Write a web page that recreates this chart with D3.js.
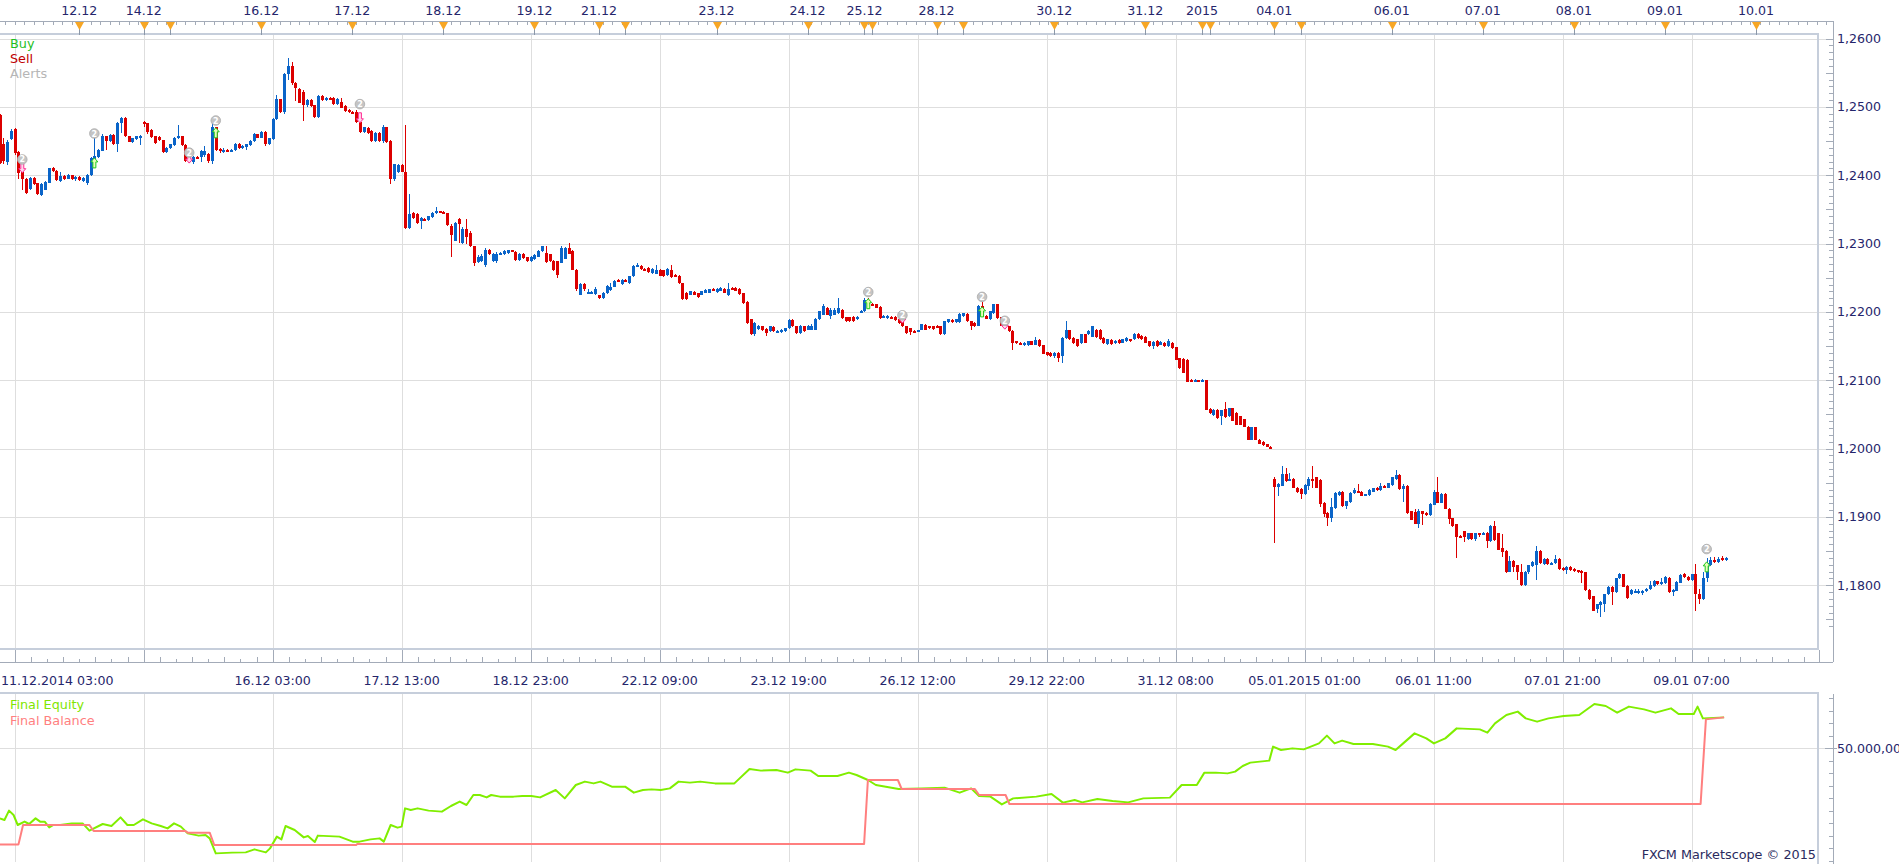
<!DOCTYPE html>
<html>
<head>
<meta charset="utf-8">
<title>EUR/USD H1 - Marketscope</title>
<script src="https://cdn.jsdelivr.net/npm/d3@7/dist/d3.min.js"></script>
<style>
  body { margin: 0; background: #fff; }
  svg { display: block; font-family: "DejaVu Sans", Verdana, sans-serif; }
</style>
</head>
<body>
<svg id="chart" width="1899" height="864"></svg>
<script>
// prices kept as pips above 1.2000, one hourly bar per entry: [open, high, low, close]
const BASE = 1.2;
const FIRST_INDEX = -4; // bar index 0 = 11.12.2014 03:00

const ohlcPips = [
  // -4
  [488,490,416,418],[445,455,416,421],[420,452,415,449],[453,467,452,465],
  // 0
  [467,469,430,432],[434,436,394,403],[404,405,379,394],[395,396,373,374],[380,397,378,396],
  [396,398,385,387],[388,389,371,372],[371,388,369,387],[379,392,378,390],[389,411,388,410],
  // 10
  [410,412,405,406],[406,407,392,393],[391,404,390,399],[399,400,393,394],[395,402,394,400],
  [400,401,393,394],[394,399,392,397],[398,399,392,393],[392,397,390,396],[389,402,385,401],
  // 20
  [400,426,399,425],[423,454,422,428],[426,439,425,437],[436,460,435,457],[457,458,437,450],
  [450,461,449,459],[459,460,444,445],[445,478,434,477],[477,485,462,484],[484,485,456,457],
  // 30
  [457,458,448,449],[449,455,447,454],[453,458,452,457],[454,459,444,458],[478,479,470,476],
  [476,477,461,463],[466,467,455,456],[457,458,446,447],[456,457,450,451],[451,452,433,434],
  // 40
  [434,441,433,440],[440,446,439,445],[444,456,443,455],[454,473,453,457],[457,458,443,444],
  [444,445,420,421],[423,424,418,419],[419,428,416,427],[427,428,425,426],[427,437,420,436],
  // 50
  [429,443,426,436],[431,432,418,421],[421,478,417,470],[470,471,436,437],[438,440,432,437],
  [436,440,433,437],[437,438,434,436],[436,438,435,437],[437,447,436,446],[446,447,439,440],
  // 60
  [440,444,439,443],[441,446,437,445],[444,451,443,450],[450,462,449,460],[460,461,454,455],
  [455,464,454,463],[463,464,442,445],[445,455,444,454],[453,483,452,482],[482,518,481,511],
  // 70
  [511,512,491,492],[492,550,490,548],[548,572,540,560],[560,566,532,535],[535,537,509,527],
  [526,528,505,506],[521,524,480,502],[502,512,500,510],[510,512,500,501],[502,503,484,485],
  // 80
  [485,518,484,516],[516,517,509,510],[510,514,509,513],[513,514,510,511],[513,514,503,504],
  [504,513,503,512],[507,513,498,499],[501,502,493,494],[496,497,491,492],[493,494,489,490],
  // 90
  [492,496,476,478],[478,480,462,463],[463,471,462,470],[469,470,461,462],[465,466,449,450],
  [450,463,449,462],[462,463,449,450],[450,473,447,470],[470,471,447,448],[450,451,387,394],
  // 100
  [394,417,392,416],[405,416,403,415],[415,416,404,405],[405,473,322,323],[323,372,322,343],
  [345,346,336,338],[343,344,329,330],[333,339,322,338],[336,337,333,334],[334,341,333,340],
  // 110
  [339,346,338,345],[344,353,343,348],[347,348,344,345],[346,347,343,344],[344,345,325,327],
  [326,328,280,312],[304,332,303,330],[336,338,301,328],[301,324,300,321],[322,336,300,310],
  // 120
  [316,318,295,296],[296,297,267,272],[273,283,271,281],[274,284,273,282],[269,293,266,291],
  [291,292,283,284],[274,286,273,285],[274,288,272,285],[284,288,283,286],[284,290,283,289],
  // 130
  [286,291,285,290],[290,291,288,289],[287,289,275,276],[276,286,275,285],[285,286,278,279],
  [280,281,273,274],[274,282,273,281],[277,284,276,283],[281,290,280,289],[289,297,288,296],
  // 140
  [286,297,272,273],[284,285,273,274],[275,276,260,261],[274,275,250,254],[272,296,271,294],
  [278,295,277,293],[294,301,284,285],[289,290,261,262],[262,263,230,233],[225,243,224,241],
  // 150
  [241,242,231,233],[227,233,226,229],[227,231,226,229],[226,236,225,234],[224,225,219,220],
  [220,229,219,228],[227,239,226,238],[232,242,231,237],[237,246,236,245],[247,248,244,245],
  // 160
  [241,248,240,247],[247,248,244,245],[242,253,241,252],[252,268,251,267],[266,272,265,269],
  [267,269,262,263],[263,264,261,262],[264,265,257,258],[257,264,256,263],[256,268,255,262],
  // 170
  [262,263,252,253],[261,262,251,252],[254,264,253,263],[262,268,250,251],[254,255,251,252],
  [253,254,241,242],[242,243,218,219],[228,229,217,219],[225,231,224,230],[229,230,224,225],
  // 180
  [227,228,221,222],[225,231,224,230],[228,233,227,232],[228,234,227,233],[234,235,230,231],
  [229,235,228,234],[231,236,230,235],[234,235,227,228],[224,243,223,234],[235,236,232,233],
  // 190
  [235,236,230,231],[234,235,225,226],[227,228,212,213],[215,216,183,184],[189,190,166,167],
  [167,185,165,184],[175,181,174,180],[179,180,172,173],[175,176,165,169],[172,180,171,179],
  // 200
  [178,179,171,172],[171,174,170,172],[170,175,169,174],[172,177,171,176],[176,189,175,188],
  [188,189,178,179],[179,180,168,169],[169,181,168,180],[179,180,171,172],[174,181,173,180],
  // 210
  [174,182,173,180],[174,191,173,190],[189,202,188,201],[196,211,195,208],[206,207,195,196],
  [194,205,190,203],[196,205,195,203],[198,220,197,206],[203,204,190,191],[192,193,185,186],
  // 220
  [192,193,185,186],[193,194,185,186],[189,194,188,193],[199,203,198,202],[201,221,200,218],
  [217,220,211,212],[212,213,208,209],[211,212,205,206],[207,208,190,191],[192,196,191,194],
  // 230
  [191,195,190,194],[193,194,189,190],[193,194,187,188],[190,191,183,184],[186,187,178,179],
  [179,180,168,169],[176,177,166,170],[172,173,169,170],[171,174,170,173],[174,183,173,182],
  // 240
  [181,182,173,174],[179,180,175,176],[179,180,174,175],[180,181,176,177],[179,180,166,167],
  [167,187,166,186],[185,190,184,189],[188,189,184,185],[185,190,184,189],[185,198,184,197],
  // 250
  [194,199,193,198],[197,198,185,186],[186,187,173,180],[184,185,178,179],[180,210,179,208],
  [208,214,192,193],[194,195,189,190],[189,202,188,201],[198,212,197,211],[211,212,190,191],
  // 260
  [192,193,179,180],[183,184,178,179],[179,180,171,172],[172,173,144,154],[157,158,153,154],
  [155,156,151,152],[151,156,150,155],[151,158,150,157],[157,158,151,152],[152,163,151,159],
  // 270
  [159,160,149,150],[151,152,138,139],[141,142,136,137],[140,141,134,135],[135,141,132,140],
  [140,141,126,132],[135,164,125,162],[162,186,161,174],[173,174,159,160],[162,163,153,154],
  // 280
  [160,161,149,150],[154,168,153,167],[167,168,154,155],[167,173,166,172],[164,180,163,179],
  [174,175,162,163],[174,175,159,160],[162,163,153,154],[153,161,152,160],[159,160,152,153],
  // 290
  [154,159,153,158],[159,160,153,154],[155,161,154,160],[157,163,156,162],[160,161,156,157],
  [160,169,159,168],[168,169,161,162],[165,166,159,160],[164,165,154,155],[157,158,149,150],
  // 300
  [150,157,145,156],[158,159,149,150],[152,157,151,156],[155,156,149,150],[150,160,149,157],
  [155,156,146,147],[148,149,129,130],[132,133,117,118],[131,132,110,111],[130,131,97,98],
  // 310
  [101,102,97,98],[99,102,97,101],[100,101,97,98],[99,102,98,101],[100,101,56,57],
  [58,59,51,52],[49,58,48,57],[57,58,44,45],[47,57,35,56],[58,68,45,46],
  // 320
  [47,60,46,59],[59,60,40,41],[52,53,34,35],[47,48,34,35],[43,44,31,32],
  [32,33,12,13],[13,32,12,31],[31,32,12,13],[13,14,6,7],[10,11,4,5],
  // 330
  [6,7,2,3],[3,4,-1,0],[-44,-42,-138,-56],[-56,-50,-70,-52],[-54,-25,-55,-37],
  [-37,-29,-49,-47],[-47,-36,-48,-45],[-45,-43,-58,-57],[-57,-56,-65,-64],[-59,-58,-74,-66],
  // 340
  [-66,-52,-68,-53],[-54,-41,-60,-44],[-44,-25,-57,-46],[-42,-41,-58,-57],[-46,-45,-85,-81],
  [-80,-78,-100,-96],[-94,-93,-113,-101],[-101,-72,-107,-86],[-87,-64,-88,-65],[-68,-62,-69,-63],
  // 350
  [-63,-62,-85,-84],[-84,-76,-88,-77],[-78,-64,-79,-65],[-65,-58,-66,-60],[-62,-52,-65,-64],
  [-63,-62,-70,-69],[-68,-66,-70,-67],[-68,-59,-69,-60],[-63,-57,-64,-58],[-57,-56,-62,-61],
  // 360
  [-61,-51,-62,-54],[-54,-53,-58,-57],[-57,-50,-58,-51],[-53,-41,-54,-42],[-45,-32,-46,-39],
  [-39,-37,-60,-59],[-59,-52,-78,-54],[-54,-53,-95,-94],[-92,-91,-105,-104],[-93,-89,-111,-110],
  // 370
  [-110,-89,-116,-92],[-92,-91,-112,-95],[-94,-93,-98,-97],[-97,-80,-98,-81],[-82,-61,-83,-64],
  [-64,-42,-80,-79],[-79,-65,-80,-66],[-66,-65,-89,-88],[-88,-87,-110,-103],[-102,-101,-114,-113],
  // 380
  [-111,-110,-160,-129],[-128,-127,-131,-130],[-121,-120,-136,-129],[-132,-123,-133,-124],[-124,-123,-133,-132],
  [-132,-123,-135,-124],[-124,-123,-130,-126],[-126,-122,-127,-123],[-123,-122,-145,-135],[-135,-112,-136,-113],
  // 390
  [-113,-106,-135,-134],[-124,-123,-149,-148],[-146,-125,-158,-151],[-150,-149,-182,-181],[-180,-157,-181,-164],
  [-164,-163,-180,-173],[-171,-170,-192,-180],[-180,-169,-201,-200],[-200,-179,-201,-180],[-181,-170,-183,-171],
  // 400
  [-172,-165,-173,-166],[-171,-143,-192,-150],[-150,-149,-169,-168],[-169,-160,-170,-161],[-161,-160,-170,-169],
  [-169,-166,-170,-167],[-168,-155,-169,-161],[-161,-160,-177,-176],[-174,-173,-179,-178],[-178,-172,-183,-173],
  // 410
  [-173,-172,-179,-178],[-176,-175,-181,-179],[-178,-177,-182,-181],[-179,-178,-196,-181],[-181,-180,-208,-207],
  [-207,-206,-221,-220],[-216,-215,-238,-237],[-234,-227,-240,-228],[-229,-223,-246,-224],[-227,-212,-239,-213],
  // 420
  [-213,-201,-214,-202],[-202,-201,-229,-210],[-210,-189,-211,-190],[-190,-182,-191,-184],[-184,-183,-203,-202],
  [-201,-200,-220,-219],[-213,-206,-214,-207],[-210,-206,-211,-209],[-209,-205,-212,-208],[-209,-207,-214,-208],
  // 430
  [-209,-204,-210,-205],[-206,-194,-207,-200],[-201,-192,-202,-193],[-194,-193,-199,-198],[-198,-189,-199,-195],
  [-197,-186,-198,-188],[-189,-188,-211,-210],[-210,-206,-215,-207],[-208,-194,-209,-195],[-196,-184,-197,-185],
  // 440
  [-184,-182,-189,-188],[-188,-187,-193,-192],[-192,-183,-193,-184],[-184,-169,-238,-213],[-212,-206,-227,-220],
  [-220,-180,-222,-190],[-190,-160,-195,-168],[-170,-158,-172,-163],[-163,-159,-168,-166],[-166,-158,-167,-161],
  // 450
  [-160,-157,-165,-163],[-163,-158,-164,-160]
];

// strategy signals: bar index, side, level of the alert badge and of the arrow (pips)
const signalIndex = [2, 21, 46, 53, 91, 225, 234, 255, 261, 446];
const signalSide  = ["sell","buy","sell","buy","sell","buy","sell","buy","sell","buy"];
const alertPips   = [423, 461, 433, 480, 504, 229, 195, 222, 187, -147];
const arrowPips   = [411, 418, 425, 462, 484, 212, 191, 200, 182, -173];

// price axis
const priceTicks = [1.18, 1.19, 1.20, 1.21, 1.22, 1.23, 1.24, 1.25, 1.26];

// top date strip (bar index of each day marker)
const dayMarkIndex = [17, 34, 41, 65, 89, 113, 137, 154, 161, 185, 209, 224, 226, 243, 250,
                      274, 298, 313, 315, 332, 339, 363, 387, 411, 435, 459];
const dayLabelIndex = [17, 34, 65, 89, 113, 137, 154, 185, 209, 224, 243, 274, 298, 313, 332,
                       363, 387, 411, 435, 459];
const dayLabelText = ["12.12","14.12","16.12","17.12","18.12","19.12","21.12","23.12","24.12",
                      "25.12","28.12","30.12","31.12","2015","04.01","06.01","07.01","08.01",
                      "09.01","10.01"];

// bottom time axis, one label every 34 bars
const timeLabels = ["11.12.2014 03:00", "", "16.12 03:00", "17.12 13:00", "18.12 23:00",
                    "22.12 09:00", "23.12 19:00", "26.12 12:00", "29.12 22:00", "31.12 08:00",
                    "05.01.2015 01:00", "06.01 11:00", "07.01 21:00", "09.01 07:00"];
const TIME_STEP = 34;

// equity / balance panel: [bar index, account value]
const equityPoints = [
  [-3.9,49437],[-2.7,49424],[-1.5,49499],[-0.3,49464],[0.8,49384],[2.6,49411],[3.8,49392],[5.5,49437],
  [6.7,49411],[7.9,49411],[9.1,49365],[10.2,49384],[12,49384],[15,49397],[17.9,49397],[19.7,49339],
  [23.2,49392],[25.5,49376],[27.9,49445],[29.7,49384],[31.4,49384],[33.8,49429],[36.1,49397],[38.5,49376],
  [40.3,49357],[42,49397],[43.8,49371],[45.6,49317],[48.5,49299],[50.3,49304],[51.4,49277],[53,49157],
  [57.3,49163],[60.9,49165],[63.2,49189],[64.4,49179],[66.2,49165],[67.3,49197],[69.1,49291],[70.3,49269],
  [71.4,49376],[73.8,49344],[76.2,49285],[77.3,49296],[79.1,49248],[79.9,49299],[85.6,49291],[89.1,49251],
  [90.9,49251],[93.8,49269],[96.2,49277],[97.3,49251],[99.1,49384],[100.9,49363],[102,49371],[102.9,49517],
  [104.4,49504],[106.2,49517],[109.1,49499],[112.6,49491],[115,49536],[117.3,49571],[119.1,49544],[120.9,49624],
  [122.6,49624],[124.4,49605],[125.6,49624],[127.9,49611],[131.5,49611],[133.8,49616],[136.2,49616],[138.5,49605],
  [142.6,49664],[145,49597],[147.9,49704],[150.3,49731],[152.6,49717],[154.4,49731],[157.4,49691],[160.9,49691],
  [163.2,49643],[165.6,49664],[167.9,49669],[170.3,49664],[172.7,49677],[175,49731],[178,49723],[180.7,49731],
  [184.6,49717],[189.7,49717],[193.7,49832],[196.7,49819],[200.8,49824],[203.8,49803],[205.8,49829],[209.8,49819],
  [211.8,49776],[216.9,49776],[219.9,49803],[221.9,49784],[224.9,49744],[227,49704],[233,49672],[239,49677],
  [245.1,49683],[249.1,49643],[252.1,49677],[254.2,49616],[257.2,49611],[260.2,49549],[263.2,49597],[269.3,49611],
  [273.3,49632],[276.3,49563],[279.4,49584],[281.4,49565],[285.4,49592],[289.4,49576],[293.5,49565],[297.5,49597],
  [304.5,49603],[307.6,49704],[311.6,49704],[313.6,49803],[316.6,49803],[319.7,49797],[321.7,49811],[323.7,49856],
  [325.7,49883],[330.7,49899],[331.7,50011],[333.8,49984],[336.8,49997],[339.8,49989],[343.8,50037],[345.9,50099],
  [347.9,50037],[349.9,50059],[352.9,50032],[358,50032],[362,50011],[364,49984],[366,50037],[369,50117],
  [372.1,50077],[374.1,50037],[377.1,50077],[380.1,50157],[386.2,50149],[388.2,50123],[390.2,50197],[393.2,50264],
  [396.2,50291],[398.3,50237],[401.3,50211],[404.3,50237],[408.3,50256],[412.4,50264],[416.4,50352],[419.4,50336],
  [422.4,50283],[425.5,50331],[429.5,50309],[432.5,50283],[436.6,50317],[438.6,50272],[442.6,50272],[443.6,50331],
  [445,50237],[450.6,50245]
];
const balancePoints = [
  [-4,49229],[1,49229],[2.2,49384],[19.7,49384],[20.8,49336],[45,49336],[45.6,49323],[51.4,49323],
  [52.6,49224],[90,49224],[90.3,49232],[223.9,49232],[224.9,49744],[232.8,49744],[233.8,49672],[253.1,49672],
  [254.2,49624],[261.2,49624],[262.2,49552],[444.4,49552],[445.8,50229],[450.6,50245]
];

const BLUE = "#0a64c8", RED = "#dc0000";
const NAVY = "#25256b";
const GRID = "#dedede";
const FRAME = "#c6cedb";
const STRIP = "#a3abb8";
const AXIS_FONT = 12.6;

const svg = d3.select("#chart");
svg.append("rect").attr("width", 1899).attr("height", 864).attr("fill", "#fff");

const plotR = 1819, plotT = 35, plotB = 649, axisX = 1833;
const lowT = 694, lowB = 862;

const x = d3.scaleLinear().domain([0, 442]).range([14.7, 1691.5]);
const y = d3.scaleLinear().domain([1.18, 1.26]).range([585.3, 38.5]);
const yEq = d3.scaleLinear().domain([49088, 50432]).range([862, 694]);
const price = p => BASE + p / 10000;

const candles = ohlcPips.map((d, k) => ({
  i: FIRST_INDEX + k, o: price(d[0]), h: price(d[1]), l: price(d[2]), c: price(d[3])
}));

const defs = svg.append("defs");
defs.append("clipPath").attr("id", "clipMain").append("rect")
  .attr("x", 0).attr("y", plotT).attr("width", plotR).attr("height", plotB - plotT);
defs.append("clipPath").attr("id", "clipLow").append("rect")
  .attr("x", 0).attr("y", lowT).attr("width", plotR).attr("height", lowB - lowT);

const gridIdx = d3.range(0, 443, TIME_STEP);

// ---------- main panel ----------
const mainG = svg.append("g").attr("shape-rendering", "crispEdges");

mainG.selectAll("line.hgrid").data(priceTicks).join("line")
  .attr("x1", 0).attr("x2", axisX)
  .attr("y1", d => Math.round(y(d)) + 0.5).attr("y2", d => Math.round(y(d)) + 0.5)
  .attr("stroke", GRID);
mainG.selectAll("line.vgrid").data(gridIdx).join("line")
  .attr("x1", d => Math.round(x(d)) + 0.5).attr("x2", d => Math.round(x(d)) + 0.5)
  .attr("y1", plotT).attr("y2", plotB)
  .attr("stroke", GRID);

// frame
mainG.append("rect").attr("x", -2).attr("y", plotT - 1).attr("width", plotR + 1).attr("height", plotB - plotT + 1)
  .attr("fill", "none").attr("stroke", FRAME).attr("stroke-width", 2);

const gC = svg.append("g").attr("clip-path", "url(#clipMain)").attr("shape-rendering", "crispEdges");
const col = d => d.c >= d.o ? BLUE : RED;
gC.selectAll("rect.wick").data(candles).join("rect")
  .attr("class", "wick")
  .attr("x", d => Math.round(x(d.i)))
  .attr("y", d => Math.round(y(d.h)))
  .attr("width", 1)
  .attr("height", d => Math.max(1, Math.round(y(d.l)) - Math.round(y(d.h))))
  .attr("fill", col);
gC.selectAll("rect.body").data(candles).join("rect")
  .attr("class", "body")
  .attr("x", d => Math.round(x(d.i)) - 1)
  .attr("y", d => Math.round(y(Math.max(d.o, d.c))))
  .attr("width", 3)
  .attr("height", d => Math.max(2, Math.round(y(Math.min(d.o, d.c))) - Math.round(y(Math.max(d.o, d.c)))))
  .attr("fill", col);

// signals
const signals = signalIndex.map((i, k) => ({ i, side: signalSide[k], a: price(alertPips[k]), r: price(arrowPips[k]) }));
const gS = svg.append("g").attr("clip-path", "url(#clipMain)");
gS.selectAll("path.arrow").data(signals).join("path")
  .attr("d", d => {
    const cx = x(d.i), cy = y(d.r);
    return d.side === "buy"
      ? `M${cx},${cy - 5}L${cx + 3.5},${cy - 1}L${cx + 1.5},${cy - 1}L${cx + 1.5},${cy + 5}L${cx - 1.5},${cy + 5}L${cx - 1.5},${cy - 1}L${cx - 3.5},${cy - 1}Z`
      : `M${cx},${cy + 5}L${cx + 3.5},${cy + 1}L${cx + 1.5},${cy + 1}L${cx + 1.5},${cy - 5}L${cx - 1.5},${cy - 5}L${cx - 1.5},${cy + 1}L${cx - 3.5},${cy + 1}Z`;
  })
  .attr("fill", d => d.side === "buy" ? "#e8ffb8" : "#ffd6ea")
  .attr("stroke", d => d.side === "buy" ? "#1ec81e" : "#ff2f96")
  .attr("stroke-width", 1);
const badge = gS.selectAll("g.alert").data(signals).join("g")
  .attr("transform", d => `translate(${x(d.i)},${y(d.a)})`);
badge.append("circle").attr("r", 4.8).attr("fill", "#c4c4c4").attr("stroke", "#a9a9a9").attr("stroke-width", 0.8);
badge.append("text").attr("text-anchor", "middle").attr("y", 3).attr("font-size", 8).attr("font-weight", "bold")
  .attr("fill", "#fff").text("2");

// legend
const legend = [["Buy", "#1fbf1f"], ["Sell", "#c00000"], ["Alerts", "#b6b6b6"]];
svg.selectAll("text.leg").data(legend).join("text")
  .attr("x", 10).attr("y", (d, k) => 48 + k * 15)
  .attr("font-size", 12.8).attr("fill", d => d[1]).text(d => d[0]);

// right price axis
const axisG = svg.append("g").attr("shape-rendering", "crispEdges");
axisG.append("line").attr("x1", axisX + 0.5).attr("x2", axisX + 0.5).attr("y1", 21).attr("y2", 662).attr("stroke", STRIP);
const minor = d3.range(1.174, 1.2665, 0.001).map(v => +v.toFixed(4)).filter(v => y(v) > plotT && y(v) < plotB);
axisG.selectAll("line.pt").data(minor).join("line")
  .attr("x1", d => axisX - (Math.round(d * 1000) % 5 === 0 ? 7 : 4)).attr("x2", axisX)
  .attr("y1", d => Math.round(y(d)) + 0.5).attr("y2", d => Math.round(y(d)) + 0.5)
  .attr("stroke", STRIP);
const fmtPrice = d3.format(".4f");
svg.selectAll("text.py").data(priceTicks).join("text")
  .attr("x", 1837).attr("y", d => y(d) + 4.5)
  .attr("font-size", AXIS_FONT).attr("fill", NAVY)
  .text(d => fmtPrice(d).replace(".", ","));

// top date strip
const topG = svg.append("g").attr("shape-rendering", "crispEdges");
topG.append("line").attr("x1", 0).attr("x2", axisX).attr("y1", 21.5).attr("y2", 21.5).attr("stroke", STRIP);
topG.selectAll("line.tt").data(d3.range(-5, 480, 2.5)).join("line")
  .attr("x1", d => Math.round(x(d)) + 0.5).attr("x2", d => Math.round(x(d)) + 0.5)
  .attr("y1", 21.5).attr("y2", 25).attr("stroke", STRIP);
topG.selectAll("line.dm").data(dayMarkIndex).join("line")
  .attr("x1", d => Math.round(x(d)) + 0.5).attr("x2", d => Math.round(x(d)) + 0.5)
  .attr("y1", 22).attr("y2", 35).attr("stroke", "#8b97a8");
svg.selectAll("path.tri").data(dayMarkIndex).join("path")
  .attr("d", d => { const cx = Math.round(x(d)) + 0.5; return `M${cx - 4.5},22L${cx + 4.5},22L${cx},30Z`; })
  .attr("fill", "#f7a624");
svg.selectAll("text.day").data(dayLabelIndex).join("text")
  .attr("x", d => x(d)).attr("y", 15).attr("text-anchor", "middle")
  .attr("font-size", AXIS_FONT).attr("fill", NAVY)
  .text((d, k) => dayLabelText[k]);

// bottom time strip
const botG = svg.append("g").attr("shape-rendering", "crispEdges");
botG.append("line").attr("x1", 0).attr("x2", axisX).attr("y1", 662.5).attr("y2", 662.5).attr("stroke", STRIP);
botG.append("line").attr("x1", plotR + 0.5).attr("x2", plotR + 0.5).attr("y1", 650).attr("y2", 662).attr("stroke", STRIP);
const botMinor = d3.range(-4.25 * 3, 476, TIME_STEP / 8).map((v, k) => ({ v, k }))
  .filter(d => x(d.v) > 0 && x(d.v) < plotR);
botG.selectAll("line.bt").data(botMinor).join("line")
  .attr("x1", d => Math.round(x(d.v)) + 0.5).attr("x2", d => Math.round(x(d.v)) + 0.5)
  .attr("y1", d => d.k % 8 === 3 ? 650 : (d.k % 2 === 0 ? 657 : 659)).attr("y2", 662)
  .attr("stroke", STRIP);
svg.selectAll("text.time").data(timeLabels).join("text")
  .attr("y", 684.5).attr("font-size", AXIS_FONT).attr("fill", NAVY)
  .attr("text-anchor", "middle")
  .text(d => d)
  .attr("x", function (d, k) {
    const w = this.getComputedTextLength();
    return Math.max(x(k * TIME_STEP), w / 2 + 1);
  });

// ---------- equity panel ----------
const lowG = svg.append("g").attr("shape-rendering", "crispEdges");
lowG.selectAll("line.lv").data(gridIdx).join("line")
  .attr("x1", d => Math.round(x(d)) + 0.5).attr("x2", d => Math.round(x(d)) + 0.5)
  .attr("y1", lowT).attr("y2", lowB).attr("stroke", GRID);
lowG.append("line").attr("x1", 0).attr("x2", axisX + 4)
  .attr("y1", Math.round(yEq(50000)) + 0.5).attr("y2", Math.round(yEq(50000)) + 0.5).attr("stroke", GRID);
lowG.append("rect").attr("x", -2).attr("y", lowT - 1).attr("width", plotR + 1).attr("height", lowB - lowT + 4)
  .attr("fill", "none").attr("stroke", FRAME).attr("stroke-width", 2);
lowG.append("line").attr("x1", axisX + 0.5).attr("x2", axisX + 0.5).attr("y1", lowT).attr("y2", 864).attr("stroke", STRIP);
lowG.selectAll("line.et").data(d3.range(49100, 50401, 100)).join("line")
  .attr("x1", d => d === 50000 ? axisX - 8 : axisX - 4).attr("x2", d => d === 50000 ? axisX + 4 : axisX)
  .attr("y1", d => Math.round(yEq(d)) + 0.5).attr("y2", d => Math.round(yEq(d)) + 0.5)
  .attr("stroke", STRIP);
svg.append("text").attr("x", 1837).attr("y", yEq(50000) + 4.5)
  .attr("font-size", AXIS_FONT).attr("fill", NAVY).text("50.000,00");

const eqLine = d3.line().x(d => x(d[0])).y(d => yEq(d[1]));
const gL = svg.append("g").attr("clip-path", "url(#clipLow)");
gL.append("path").attr("d", eqLine(equityPoints)).attr("fill", "none")
  .attr("stroke", "#80ee00").attr("stroke-width", 2).attr("stroke-linejoin", "round");
gL.append("path").attr("d", eqLine(balancePoints)).attr("fill", "none")
  .attr("stroke", "#ff7f7f").attr("stroke-width", 2).attr("stroke-linejoin", "round");

svg.append("text").attr("x", 10).attr("y", 708.5).attr("font-size", 12.8).attr("fill", "#7fe600").text("Final Equity");
svg.append("text").attr("x", 10).attr("y", 724.5).attr("font-size", 12.8).attr("fill", "#ff8080").text("Final Balance");
svg.append("text").attr("x", 1816).attr("y", 859).attr("text-anchor", "end")
  .attr("font-size", 12.8).attr("fill", "#2a2a5e").text("FXCM Marketscope © 2015");
</script>
</body>
</html>
